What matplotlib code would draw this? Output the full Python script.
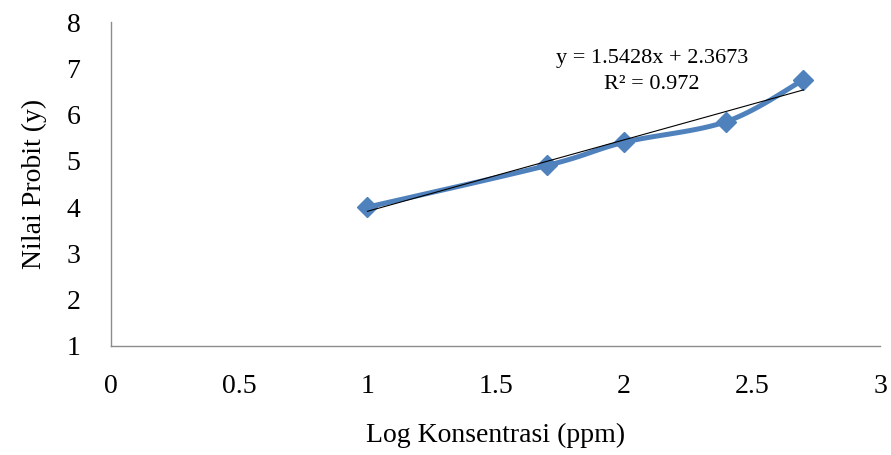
import numpy as np
import matplotlib.pyplot as plt

# data
log_konsentrasi = [1.0, 1.7, 2.0, 2.4, 2.7]
nilai_probit = [4.0, 4.9, 5.4, 5.85, 6.75]
slope, intercept = 1.5428, 2.3673

plt.rcParams['font.family'] = ['Liberation Serif', 'DejaVu Serif']


def smooth(x, y, n=30):
    # catmull-rom style smoothing, like Excel's "smoothed line"
    x = np.asarray(x, float)
    y = np.asarray(y, float)
    px = np.concatenate([[x[0]], x, [x[-1]]])
    py = np.concatenate([[y[0]], y, [y[-1]]])
    xs, ys = [], []
    t = np.linspace(0, 1, n)
    for i in range(1, len(px) - 2):
        p0, p1, p2, p3 = (np.array([px[j], py[j]]) for j in range(i - 1, i + 3))
        c1 = p1 + (p2 - p0) / 6
        c2 = p2 - (p3 - p1) / 6
        seg = ((1 - t) ** 3)[:, None] * p1 + (3 * (1 - t) ** 2 * t)[:, None] * c1 \
            + (3 * (1 - t) * t ** 2)[:, None] * c2 + (t ** 3)[:, None] * p2
        xs.extend(seg[:, 0])
        ys.extend(seg[:, 1])
    return np.array(xs), np.array(ys)


fig = plt.figure(figsize=(8.91, 4.55), dpi=100)
ax = fig.add_axes([0.1246, 0.2396, 0.8634, 0.712])

sx, sy = smooth(log_konsentrasi, nilai_probit)
ax.plot(sx, sy, color='#4F81BD', lw=3.6, solid_capstyle='round', zorder=2)
ax.plot(log_konsentrasi, nilai_probit, ls='none', marker='D', ms=10,
        color='#4F81BD', zorder=3)

# linear trendline
tx = np.array([log_konsentrasi[0], log_konsentrasi[-1]])
ax.plot(tx, slope * tx + intercept, color='black', lw=0.8, zorder=4)

ax.text(2.11, 6.93, 'y = 1.5428x + 2.3673\nR² = 0.972', ha='center', va='center',
        fontsize=16, linespacing=1.55)

ax.set_xlim(0, 3)
ax.set_ylim(1, 8)
ax.set_xticks([0, 0.5, 1, 1.5, 2, 2.5, 3])
ax.set_xticklabels(['0', '0.5', '1', '1.5', '2', '2.5', '3'])
ax.set_yticks(range(1, 9))
ax.tick_params(length=0, labelsize=20, pad=20)
ax.tick_params(axis='y', pad=22)

for s in ['top', 'right']:
    ax.spines[s].set_visible(False)
for s in ['left', 'bottom']:
    ax.spines[s].set_color('#8c8c8c')
    ax.spines[s].set_linewidth(1)

ax.set_xlabel('Log Konsentrasi (ppm)', fontsize=20, labelpad=17)
ax.set_ylabel('Nilai Probit (y)', fontsize=20, labelpad=14)

fig.savefig('out.png', dpi=100)
